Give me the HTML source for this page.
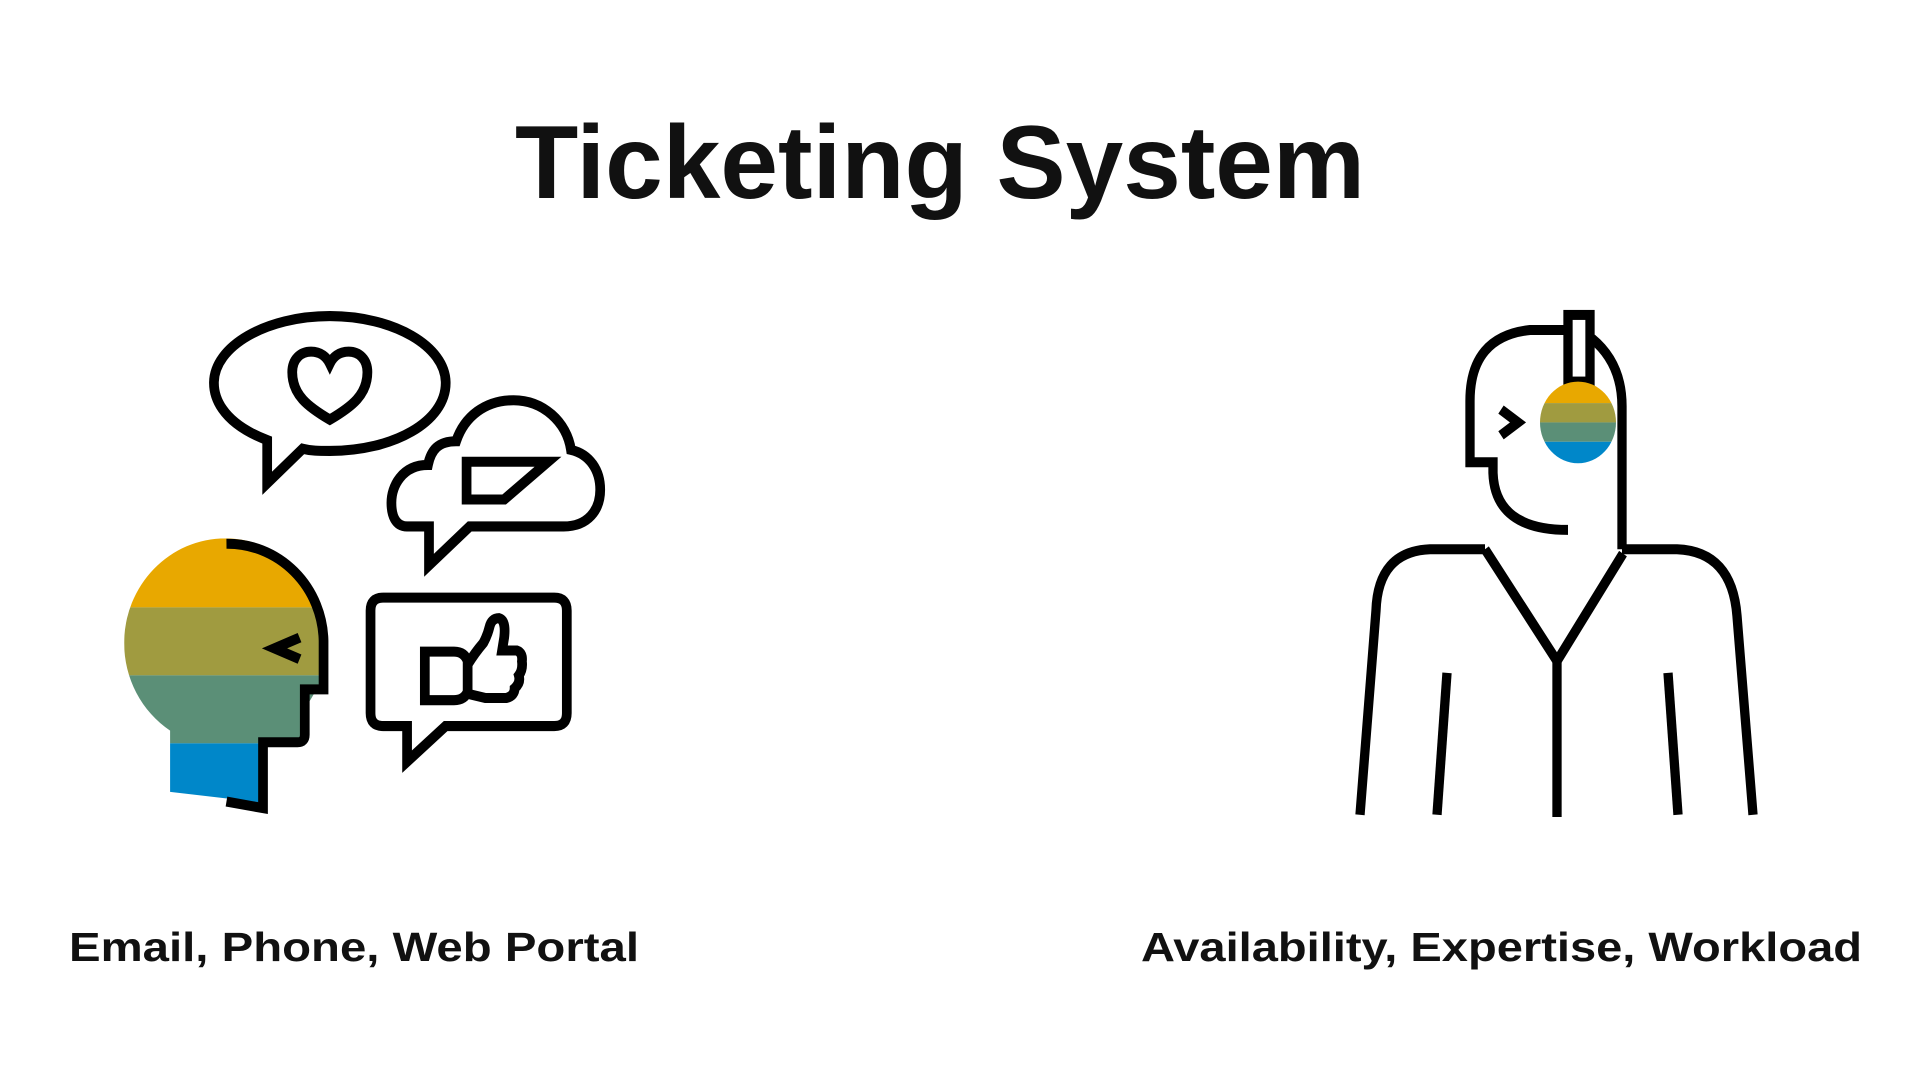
<!DOCTYPE html>
<html><head><meta charset="utf-8"><style>
html,body{margin:0;padding:0;background:#fff;}
svg{display:block;}
text{font-family:"Liberation Sans",Arial,sans-serif;font-weight:bold;fill:#111;}
</style></head><body>
<svg width="1920" height="1080" viewBox="0 0 1920 1080" xmlns="http://www.w3.org/2000/svg">
<rect width="1920" height="1080" fill="#fff"/>
<text x="515" y="198" font-size="104" textLength="850" lengthAdjust="spacingAndGlyphs">Ticketing System</text>
<text x="69" y="961" font-size="41" textLength="570" lengthAdjust="spacingAndGlyphs">Email, Phone, Web Portal</text>
<text x="1141" y="961" font-size="41" textLength="721" lengthAdjust="spacingAndGlyphs">Availability, Expertise, Workload</text>

<defs>
<clipPath id="headclip">
<circle cx="221" cy="615" r="97"/>
<path d="M222,523 A92,92 0 0 1 315,613 L315,658 L222,658 Z"/>
<rect x="200" y="640" width="97" height="70"/>
<polygon points="168,660 257,660 257,763 168,753"/>
</clipPath>
<clipPath id="cupclip"><circle cx="1578" cy="415" r="38"/></clipPath>
</defs>

<g transform="matrix(1.044 0 0 1.079 -5.3 -20.6)">
<g clip-path="url(#headclip)">
<rect x="100" y="500" width="230" height="82" fill="#E8A800"/>
<rect x="100" y="582" width="230" height="63" fill="#A09B40"/>
<rect x="100" y="645" width="230" height="63" fill="#5B8F77"/>
<rect x="100" y="708" width="230" height="70" fill="#0087C9"/>
</g>
<g fill="none" stroke="#000" stroke-width="9.3" stroke-linejoin="miter">
<path d="M222,523 A92,92 0 0 1 315,613 L315,658 L297,658 L297,700 Q297,707 290,707 L257,707 L257,768 L222,762"/>
<path d="M292,610 L268,620 L292,630"/>
<path d="M261,427 C215,410 210,385 210,374 C210,340 260,312 321,312 C382,312 432,340 432,374 C432,410 382,437 321,437 C310,437 303,437 295,435 L261,467 Z"/>
<path d="M321,408 C300,396 285,385 285,364 C285,352 293,345 303,345 C312,345 318,350 321,356 C324,350 330,345 339,345 C349,345 357,352 357,364 C357,385 342,396 321,408 Z"/>
<path d="M416,507 L395,507 C384,507 380,497 380,485 C380,470 390,450 415,450 C418,436 425,428 442,428 C450,405 470,390 497,390 C525,390 548,410 552,436 C570,440 580,455 580,473 C580,492 568,507 545,507 L455,507 L416,543 Z"/>
<path d="M452,447 L530,447 L488,482 L452,482 Z"/>
<path d="M372,573 L536,573 Q548,573 548,585 L548,680 Q548,692 536,692 L432,692 L395,725 L395,692 L372,692 Q360,692 360,680 L360,585 Q360,573 372,573 Z"/>
<path d="M412,623 L440,623 Q450,623 453,632 L453,660 Q450,668 440,668 L412,668 Z"/>
<path d="M453,635 Q460,624 468,615 Q472,608 474,600 Q476,592 483,592 Q490,594 488,610 L486,622 L500,622 Q506,624 505,632 Q506,640 502,645 Q504,652 498,657 Q498,664 490,666 L470,666 L453,662"/>
</g>
</g>

<g transform="matrix(1 0 0 1.075 0 -23.7)">
<g fill="none" stroke="#000" stroke-width="9.3" stroke-linejoin="miter">
<path d="M1568,329 L1530,329 Q1470,335 1470,395 L1470,452 L1493,452 L1493,462 Q1495,515 1568,515"/>
<path d="M1592,337 Q1622,360 1622,400 L1622,533"/>
<rect x="1568" y="315" width="22" height="62" />
<path d="M1501,403 L1518,415 L1501,427"/>
<path d="M1485,533 L1430,533 Q1378,535 1376,590 L1360,780"/>
<path d="M1485,533 L1557,637 L1623,537"/>
<path d="M1622,533 L1677,533 Q1732,535 1737,595 L1753,780"/>
<path d="M1557,637 L1557,782"/>
<path d="M1447,648 L1437,780"/>
<path d="M1668,648 L1678,780"/>
</g>
<g clip-path="url(#cupclip)">
<rect x="1535" y="375" width="90" height="22" fill="#E8A800"/>
<rect x="1535" y="397" width="90" height="18" fill="#A09B40"/>
<rect x="1535" y="415" width="90" height="18" fill="#5B8F77"/>
<rect x="1535" y="433" width="90" height="25" fill="#0087C9"/>
</g>
</g>
</svg>
</body></html>
